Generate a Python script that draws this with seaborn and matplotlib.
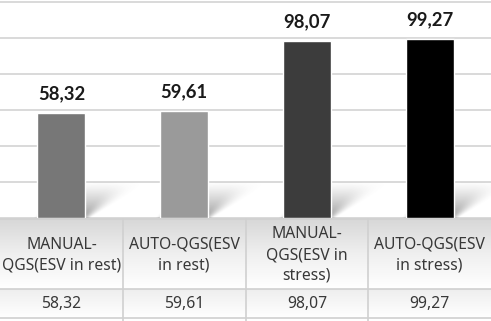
import numpy as np
import pandas as pd
import matplotlib
matplotlib.use("Agg")
import matplotlib.pyplot as plt
import seaborn as sns

# Chart data
categories = ["MANUAL-\nQGS(ESV in rest)", "AUTO-QGS(ESV\nin rest)",
              "MANUAL-\nQGS(ESV in\nstress)", "AUTO-QGS(ESV\nin stress)"]
values = [58.32, 59.61, 98.07, 99.27]
bar_colors = ["#777777", "#9a9a9a", "#3c3c3c", "#000000"]
y_ticks = [0, 20, 40, 60, 80, 100, 120]


def fmt(v):
    return f"{v:.2f}".replace(".", ",")


def smooth(a, lo, hi):
    t = np.clip((a - lo) / (hi - lo), 0, 1)
    return t * t * (3 - 2 * t)


sns.set_style("white")
plt.rcParams["font.family"] = ["Noto Sans", "DejaVu Sans"]

df = pd.DataFrame({"cat": categories, "val": values})

fig = plt.figure(figsize=(4.91, 3.21), dpi=100)
H = 321.0
ax = fig.add_axes([0, 103 / H, 1, 218 / H])
tab = fig.add_axes([0, 0, 1, 103 / H])

# soft perspective shadows behind the bars
half = 0.195
sh_h, sh_dx = 20.0, 0.36
xs = np.linspace(-0.3, 0.8, 220)
ys = np.linspace(0, sh_h, 120)
X, Y = np.meshgrid(xs, ys)
t = Y / sh_h
xp = X - sh_dx * t
blur = 0.04 + 0.14 * t
mask = smooth(xp, -half - blur, -half + blur) * (1 - smooth(xp, half - blur, half + blur))
alpha = mask * (1 - t) ** 1.2 * 0.7
rgba = np.zeros(X.shape + (4,))
rgba[..., :3] = 0.45
rgba[..., 3] = alpha
for i in range(len(values)):
    ax.imshow(rgba, extent=(i - 0.3, i + 0.8, 0, sh_h), origin="lower",
              aspect="auto", zorder=1, interpolation="bilinear")

sns.barplot(data=df, x="cat", y="val", hue="cat", palette=bar_colors,
            width=0.39, legend=False, ax=ax, zorder=3, saturation=1)

for i, v in enumerate(values):
    ax.text(i, v + 6, fmt(v), ha="center", va="bottom", fontsize=13.3,
            fontweight="bold", color="#1a1a1a", zorder=4,
            family=["Lato", "DejaVu Sans"])

ax.set_xlim(-0.5, 3.5)
ax.set_ylim(0, 121)
ax.set_yticks(y_ticks)
ax.yaxis.grid(True, color="#d9d9d9", linewidth=1.4)
ax.set_axisbelow(True)
ax.set_xticks([])
ax.set_yticklabels([])
ax.tick_params(left=False)
ax.set_xlabel("")
ax.set_ylabel("")
for s in ax.spines.values():
    s.set_visible(False)

# data table under the chart
tab.set_xlim(-0.5, 3.5)
tab.set_ylim(103, 0)
tab.axis("off")
vgrad = np.linspace(0, 1, 256).reshape(-1, 1)
tab.imshow(vgrad, extent=(-0.5, 3.5, 71, 0), cmap="Greys_r", vmin=-2.8,
           vmax=1.0, aspect="auto", zorder=0)
tab.imshow(vgrad, extent=(-0.5, 3.5, 100, 71), cmap="Greys_r", vmin=-6.0,
           vmax=1.0, aspect="auto", zorder=0)
tab.imshow(np.ones((2, 2)), extent=(-0.5, 3.5, 103, 100), cmap="Greys_r",
           vmin=0, vmax=1, aspect="auto", zorder=0)
for y in [0.5, 71, 100]:
    tab.axhline(y, color="#d0d0d0", linewidth=1.2, zorder=2)
for x in [0.5, 1.5, 2.5]:
    tab.axvline(x, color="#d0d0d0", linewidth=1.2, zorder=2)
for i, (c, v) in enumerate(zip(categories, values)):
    tab.text(i, 37, c, ha="center", va="center", fontsize=11.3,
             color="#383838", linespacing=1.38, zorder=3)
    tab.text(i, 86, fmt(v), ha="center", va="center", fontsize=11.3,
             color="#383838", zorder=3)

fig.savefig("out.png", dpi=100)
